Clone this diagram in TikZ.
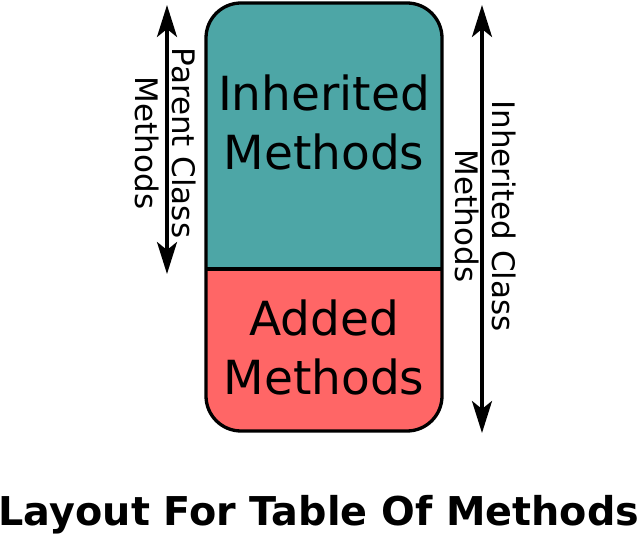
\documentclass[tikz,border=0pt]{standalone}
\usepackage{fontspec}
\setmainfont{DejaVu Sans}
\usetikzlibrary{arrows.meta}
\definecolor{tealfill}{RGB}{77,166,166}
\definecolor{redfill}{RGB}{255,102,102}
\tikzset{
  dim/.style={line width=3.3pt,{Stealth[length=32pt,width=20pt,inset=8pt]}-{Stealth[length=32pt,width=20pt,inset=8pt]}},
  biglabel/.style={inner sep=0pt,align=center,font=\fontsize{47}{59}\selectfont},
  sidelabel/.style={inner sep=0pt,align=center,rotate=-90,font=\fontsize{31}{37}\selectfont},
}
\begin{document}
\begin{tikzpicture}[x=1pt,y=-1pt]
\useasboundingbox (0,0) rectangle (640,534);
\begin{scope}
  \clip[rounded corners=35pt] (206,3) rectangle (442,431);
  \fill[tealfill] (206,3) rectangle (442,269);
  \fill[redfill] (206,269) rectangle (442,431);
\end{scope}
\draw[line width=3.3pt,rounded corners=35pt] (206,3) rectangle (442,431);
\coordinate (divL) at (206,269);
\coordinate (divR) at (442,269);
\draw[line width=3.3pt] (divL) -- (divR);
\node[biglabel] (inh) at (324,122) {Inherited\\Methods};
\node[biglabel] (add) at (324,347) {Added\\Methods};
\coordinate (pTop) at (167,5);
\coordinate (pBot) at (167,274);
\draw[dim] (pTop) -- (pBot);
\coordinate (iTop) at (482,5);
\coordinate (iBot) at (482,433);
\draw[dim] (iTop) -- (iBot);
\node[sidelabel] (plab) at (166,143) {Parent Class\\Methods};
\node[sidelabel] (ilab) at (486,216) {Inherited Class\\Methods};
\node[anchor=base,inner sep=0pt,font=\fontsize{39.7}{47}\selectfont\bfseries] (title) at (319,525) {Layout For Table Of Methods};
\end{tikzpicture}
\end{document}
